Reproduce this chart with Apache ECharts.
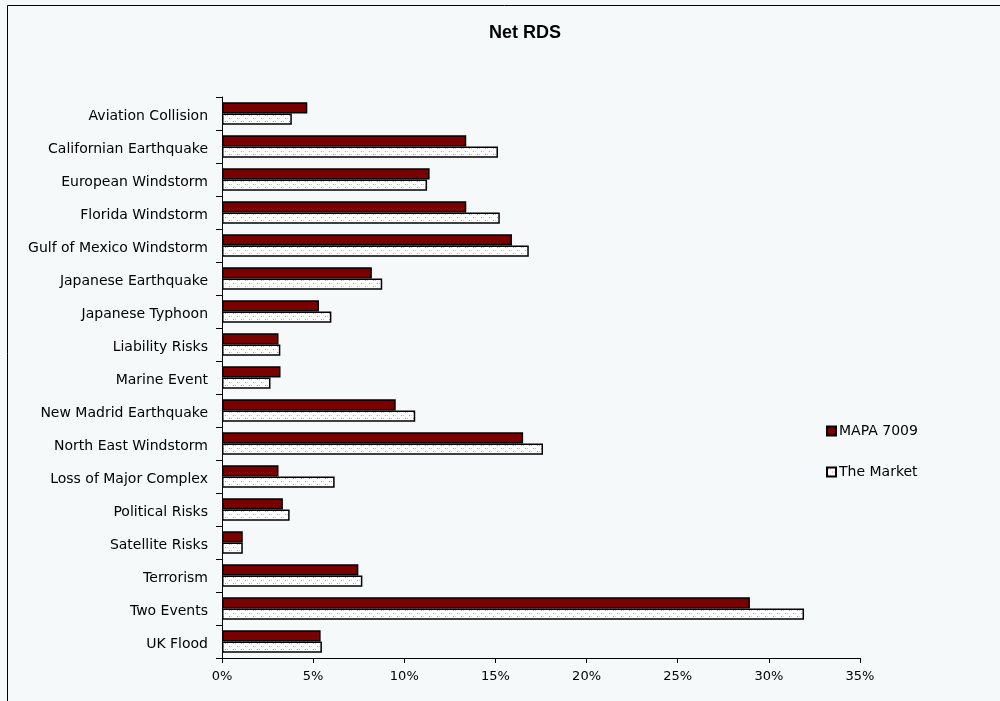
<!DOCTYPE html>
<html>
<head>
<meta charset="utf-8">
<script src="https://cdn.jsdelivr.net/npm/echarts@6/dist/echarts.min.js"></script>
<style>
  html, body { margin: 0; padding: 0; background: #f5f9fa; }
  #chart { width: 1000px; height: 701px; }
</style>
</head>
<body>
<div id="chart"></div>
<script>
const categories = [
  'Aviation Collision', 'Californian Earthquake', 'European Windstorm', 'Florida Windstorm',
  'Gulf of Mexico Windstorm', 'Japanese Earthquake', 'Japanese Typhoon', 'Liability Risks',
  'Marine Event', 'New Madrid Earthquake', 'North East Windstorm', 'Loss of Major Complex',
  'Political Risks', 'Satellite Risks', 'Terrorism', 'Two Events', 'UK Flood'
]
const mapaValues = [4.68, 13.4, 11.39, 13.4, 15.91, 8.22, 5.32, 3.1, 3.21, 9.53, 16.52, 3.1, 3.34, 1.14, 7.48, 28.96, 5.41]
const marketValues = [3.83, 15.14, 11.25, 15.24, 16.83, 8.79, 6.0, 3.2, 2.66, 10.6, 17.61, 6.18, 3.71, 1.14, 7.7, 31.93, 5.48]
const xTicks = [0, 5, 10, 15, 20, 25, 30, 35]

// dotted fill for "The Market"
function dotPattern() {
  const c = document.createElement('canvas')
  c.width = 8
  c.height = 6
  const ctx = c.getContext('2d')
  ctx.fillStyle = '#ffffff'
  ctx.fillRect(0, 0, 8, 6)
  ctx.fillStyle = '#d98a8a'
  ctx.fillRect(1, 1, 1, 1)
  ctx.fillRect(5, 4, 1, 1)
  ctx.fillStyle = '#eebcbc'
  ctx.fillRect(3, 1, 1, 1)
  ctx.fillRect(7, 4, 1, 1)
  return c
}

const chart = echarts.init(document.getElementById('chart'))
const labelFont = 'DejaVu Sans, sans-serif'

chart.setOption({
  backgroundColor: '#f5f9fa',
  animation: false,
  title: {
    text: 'Net RDS',
    left: 520,
    textAlign: 'center',
    top: 19,
    textStyle: { fontFamily: 'Liberation Sans, Arial, sans-serif', fontSize: 18, fontWeight: 'bold', color: '#000' }
  },
  graphic: [{
    type: 'rect',
    shape: { x: 7.5, y: 5.5, width: 1100, height: 800 },
    style: { fill: 'none', stroke: '#000', lineWidth: 1 },
    silent: true
  }],
  legend: {
    orient: 'vertical',
    left: 821,
    top: 419,
    itemWidth: 9,
    itemHeight: 9,
    itemGap: 27,
    icon: 'rect',
    textStyle: { fontFamily: labelFont, fontSize: 14, color: '#000', padding: [0, 0, 0, -2] },
    data: ['MAPA 7009', 'The Market']
  },
  grid: { left: 222, right: 140, top: 97, bottom: 43 },
  xAxis: {
    type: 'value',
    min: 0,
    max: 35,
    interval: 5,
    axisLine: { show: true, lineStyle: { color: '#000', width: 1 } },
    axisTick: { show: true, length: 5, lineStyle: { color: '#000' } },
    splitLine: { show: false },
    axisLabel: {
      margin: 12,
      fontFamily: labelFont,
      fontSize: 13,
      color: '#000',
      formatter: v => (xTicks.includes(v) ? v + '%' : '')
    }
  },
  yAxis: {
    type: 'category',
    data: categories,
    inverse: true,
    axisLine: { show: true, lineStyle: { color: '#000', width: 1 } },
    axisTick: { show: true, length: 6, lineStyle: { color: '#000' } },
    axisLabel: {
      margin: 14,
      formatter: v => '{c|' + v + '}',
      rich: {
        c: { fontFamily: labelFont, fontSize: 14, color: '#000', padding: [6, 0, 0, 0] }
      }
    }
  },
  series: [{
    name: 'MAPA 7009',
    type: 'bar',
    data: mapaValues,
    barGap: '0%',
    barCategoryGap: '32%',
    itemStyle: { color: '#7a0000', borderColor: '#000', borderWidth: 1.5 }
  }, {
    name: 'The Market',
    type: 'bar',
    data: marketValues,
    barGap: '0%',
    barCategoryGap: '32%',
    itemStyle: { color: { image: dotPattern(), repeat: 'repeat' }, borderColor: '#000', borderWidth: 1.5 }
  }]
})
</script>
</body>
</html>
